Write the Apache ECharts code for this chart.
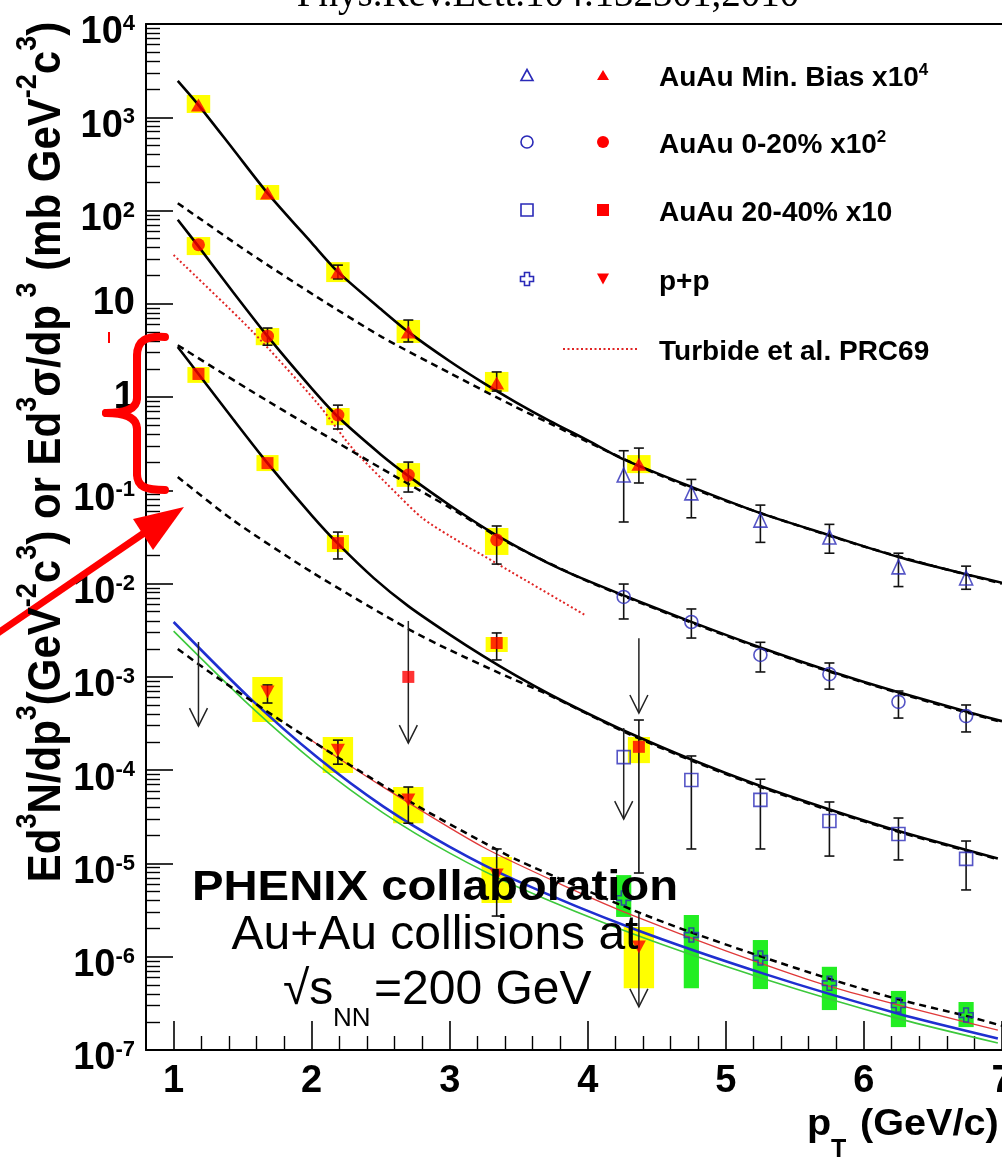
<!DOCTYPE html>
<html>
<head>
<meta charset="utf-8">
<title>PHENIX direct photon spectra</title>
<script src="https://cdn.jsdelivr.net/npm/echarts@6.0.0/dist/echarts.min.js"></script>
<style>
html,body{margin:0;padding:0;background:#ffffff;}
#chart{width:1002px;height:1160px;}
</style>
</head>
<body>
<div id="chart"></div>
<script>
// ---------------- axis ticks ----------------
const xMajorTicks = [1, 2, 3, 4, 5, 6, 7];
const xMinorTicks = [1.2,1.4,1.6,1.8,2.2,2.4,2.6,2.8,3.2,3.4,3.6,3.8,4.2,4.4,4.6,4.8,5.2,5.4,5.6,5.8,6.2,6.4,6.6,6.8];
const yMajorTicks = [1e-7,1e-6,1e-5,1e-4,1e-3,1e-2,1e-1,1,10,100,1000,10000];
const yMinorMultipliers = [2,3,4,5,6,7,8,9];

// ---------------- AuAu Min. Bias x10^4 ----------------
const mbRedPt    = [1.18, 1.68, 2.19, 2.70, 3.34, 4.37];
const mbRedVal   = [1355, 154, 21.9, 5.0, 1.42, 0.19];
const mbRedErrLo = [null, null, 18.5, 3.9, 1.16, 0.12];
const mbRedErrHi = [null, null, 26, 6.7, 1.86, 0.284];
const mbRedSysLo = [1112, 130, 17.1, 3.8, 1.14, 0.153];
const mbRedSysHi = [1733, 188, 28, 6.7, 1.86, 0.239];
const mbBluePt    = [4.26, 4.75, 5.25, 5.75, 6.25, 6.74];
const mbBlueVal   = [0.146, 0.094, 0.048, 0.0316, 0.0151, 0.0115];
const mbBlueErrLo = [0.0458, 0.0508, 0.0277, 0.0212, 0.0093, 0.0087];
const mbBlueErrHi = [0.266, 0.131, 0.0695, 0.0432, 0.0212, 0.0154];

// ---------------- AuAu 0-20% x10^2 ----------------
const c020RedPt    = [1.18, 1.68, 2.19, 2.70, 3.34];
const c020RedVal   = [43, 4.5, 0.643, 0.146, 0.0294];
const c020RedErrLo = [null, 3.6, 0.455, 0.096, 0.0162];
const c020RedErrHi = [null, 5.5, 0.82, 0.201, 0.0415];
const c020RedSysLo = [33.3, 3.6, 0.5, 0.109, 0.0203];
const c020RedSysHi = [52, 5.5, 0.764, 0.196, 0.0395];
const c020BluePt    = [4.26, 4.75, 5.25, 5.75, 6.25, 6.74];
const c020BlueVal   = [0.0072, 0.00388, 0.00172, 0.00107, 0.00054, 0.00038];
const c020BlueErrLo = [0.00418, 0.00261, 0.00113, 0.00074, 0.000362, 0.000257];
const c020BlueErrHi = [0.0099, 0.00535, 0.00235, 0.00141, 0.000706, 0.0005];

// ---------------- AuAu 20-40% x10 ----------------
const c2040RedPt    = [1.18, 1.68, 2.19, 2.70, 3.34, 4.37];
const c2040RedVal   = [1.77, 0.196, 0.0272, 0.00100, 0.00231, 0.000178];
const c2040RedErrLo = [null, null, 0.0184, null, 0.00152, 0.0000079];
const c2040RedErrHi = [null, null, 0.0357, null, 0.00296, 0.000345];
const c2040RedSysLo = [1.42, 0.161, 0.0218, null, 0.00185, 0.000119];
const c2040RedSysHi = [2.1, 0.239, 0.0332, null, 0.00268, 0.000227];
const c2040BluePt    = [4.26, 4.75, 5.25, 5.75, 6.25, 6.74];
const c2040BlueVal   = [0.000138, 0.0000785, 0.000048, 0.0000285, 0.0000207, 0.0000112];
const c2040BlueErrLo = [null, 0.0000143, 0.0000143, 0.000012, 0.0000109, 0.0000052];
const c2040BlueErrHi = [null, 0.000142, 0.00008, 0.0000456, 0.0000307, 0.0000174];

// ---------------- p+p ----------------
const ppRedPt    = [1.68, 2.19, 2.70, 3.34, 4.37];
const ppRedVal   = [6.9e-4, 1.64e-4, 4.8e-5, 7.5e-6, 1.27e-6];
const ppRedErrLo = [5.25e-4, 1.16e-4, 2.7e-5, 2.73e-6, null];
const ppRedErrHi = [8.2e-4, 2.1e-4, 6.6e-5, 1.43e-5, null];
const ppRedSysLo = [3.28e-4, 9.3e-5, 2.7e-5, 3.77e-6, 4.6e-7];
const ppRedSysHi = [1.0e-3, 2.27e-4, 6.6e-5, 1.17e-5, 2.08e-6];
const ppBluePt    = [4.26, 4.75, 5.25, 5.75, 6.25, 6.74];
const ppBlueVal   = [4.26e-6, 1.71e-6, 9.7e-7, 5.2e-7, 3.03e-7, 2.37e-7];
const ppBlueSysLo = [2.67e-6, 4.6e-7, 4.5e-7, 2.68e-7, 1.76e-7, 1.76e-7];
const ppBlueSysHi = [7.5e-6, 2.8e-6, 1.51e-6, 7.8e-7, 4.3e-7, 3.27e-7];

// ---------------- upper limits (arrow from top value down to tip value) ----------------
const ulPt  = [1.18, 2.70, 4.37, 4.26, 4.37];
const ulTop = [2.37e-3, 3.98e-3, 2.6e-3, 2.83e-4, 2.95e-6];
const ulTip = [2.97e-4, 1.95e-4, 4.1e-4, 2.99e-5, 2.9e-7];

// ---------------- fits and theory curves ----------------
const fitMbPt  = [1.03,1.18,1.43,1.68,2.0,2.19,2.5,2.7,3.0,3.24,3.48,3.72,4.0,4.26,4.75,5.25,5.75,6.25,6.76,7.0];
const fitMbVal = [2450,1350,457,154,45,22,8.8,5.0,2.42,1.43,0.88,0.56,0.343,0.215,0.109,0.057,0.033,0.0193,0.0124,0.0102];
const ppScaledMbPt  = [1.03,1.55,2.04,2.51,3.0,3.48,3.72,4.0,4.5,5.0,5.5,6.0,6.5,7.0];
const ppScaledMbVal = [120,35,11.8,4.4,1.81,0.78,0.527,0.33,0.15,0.077,0.043,0.025,0.0155,0.0100];

const fit020Pt  = [1.03,1.18,1.43,1.68,2.0,2.19,2.5,2.7,3.0,3.34,3.8,4.26,4.75,5.25,5.75,6.25,6.76,7.0];
const fit020Val = [79.6,41.3,13.4,4.5,1.24,0.615,0.243,0.143,0.0693,0.033,0.0144,0.00748,0.00389,0.00207,0.00116,0.000684,0.000418,0.000335];
const ppScaled020Pt  = [1.03,1.55,2.04,2.51,3.0,3.34,3.6,4.0,4.5,5.0,5.5,6.0,6.5,7.0];
const ppScaled020Val = [3.6,1.19,0.437,0.17,0.0653,0.0322,0.0202,0.0106,0.00531,0.00277,0.00151,0.00087,0.000525,0.000327];

const fit2040Pt  = [1.03,1.18,1.43,1.68,2.0,2.19,2.45,2.7,3.0,3.24,3.48,3.72,4.0,4.28,4.75,5.26,5.74,6.25,6.97];
const fit2040Val = [3.44,1.77,0.582,0.196,0.054,0.0268,0.01146,0.00574,0.00284,0.00168,0.00103,0.000656,0.000405,0.000258,0.00013,0.0000667,0.0000384,0.0000223,0.0000113];
const ppScaled2040Pt  = [1.03,1.43,2.0,2.71,3.0,3.36,3.72,4.28,4.75,5.26,5.74,6.25,6.97];
const ppScaled2040Val = [0.139,0.048,0.0133,0.0032,0.00194,0.0011,0.000638,0.000251,0.000127,0.0000652,0.0000375,0.0000218,0.0000111];

const ppFitPt  = [1.03,1.31,1.79,2.28,2.76,3.24,3.5,4.35,4.73,5.25,5.75,6.25,6.74,7.0];
const ppFitVal = [1.99e-3,9.98e-4,3.30e-4,1.13e-4,4.18e-5,1.69e-5,1.07e-5,3.06e-6,1.87e-6,1.01e-6,5.79e-7,3.49e-7,2.32e-7,1.82e-7];
const ppBlueCurvePt  = [1.0,1.55,2.04,2.52,3.0,3.48,4.32,5.29,6.25,6.97];
const ppBlueCurveVal = [3.88e-3,5.96e-4,1.374e-4,4.07e-5,1.507e-5,6.58e-6,2.02e-6,6.47e-7,2.45e-7,1.33e-7];
const ppGreenCurvePt  = [1.0,1.55,2.04,2.52,3.0,3.48,4.32,5.29,6.25,6.97];
const ppGreenCurveVal = [3.10e-3,4.95e-4,1.156e-4,3.47e-5,1.29e-5,5.69e-6,1.77e-6,5.71e-7,2.17e-7,1.19e-7];
const ppRedCurvePt  = [2.0,2.51,3.24,3.87,4.32,5.0,5.77,6.97];
const ppRedCurveVal = [2.08e-4,6.70e-5,1.50e-5,5.41e-6,2.79e-6,1.156e-6,4.72e-7,1.63e-7];

const turbidePt  = [1.0,1.56,2.04,2.3,2.64,2.8,3.0,3.36,3.98];
const turbideVal = [33.3,5.24,0.865,0.277,0.0849,0.0506,0.0324,0.0158,0.00461];

// ---------------- legend / text ----------------
const legendLabels = ['AuAu Min. Bias x10', 'AuAu 0-20% x10', 'AuAu 20-40% x10', 'p+p', 'Turbide et al. PRC69'];
const legendSups   = ['4', '2', '', '', ''];
const titleText = 'Phys.Rev.Lett.104:132301,2010';

// ================= build =================
const FONT = '"Liberation Sans", Arial, Helvetica, sans-serif';
const SERIF = '"Liberation Serif", "Times New Roman", Times, serif';
const RED = '#ff0000';
const BLUE = '#2a2ab8';
const BLACK = '#000000';

const yMinorTicks = [];
yMajorTicks.slice(0, -1).forEach(d => yMinorMultipliers.forEach(m => yMinorTicks.push(m * d)));

const pairs = (xs, ys) => xs.map((x, i) => [x, ys[i]]);
const ranges = (xs, lo, hi) => xs.map((x, i) => (lo[i] == null || hi[i] == null) ? null : [x, lo[i], hi[i]]).filter(Boolean);

function boxRenderer(hw, color) {
  return function (params, api) {
    const x = api.value(0), lo = api.value(1), hi = api.value(2);
    const p1 = api.coord([x - hw, hi]);
    const p2 = api.coord([x + hw, lo]);
    return { type: 'rect', shape: { x: p1[0], y: p1[1], width: p2[0] - p1[0], height: p2[1] - p1[1] }, style: { fill: color } };
  };
}
function errRenderer(params, api) {
  const x = api.value(0), lo = api.value(1), hi = api.value(2);
  const a = api.coord([x, lo]), b = api.coord([x, hi]);
  const c = 5, st = { stroke: '#111', lineWidth: 1.6 };
  return { type: 'group', children: [
    { type: 'line', shape: { x1: a[0], y1: a[1], x2: b[0], y2: b[1] }, style: st },
    { type: 'line', shape: { x1: a[0] - c, y1: a[1], x2: a[0] + c, y2: a[1] }, style: st },
    { type: 'line', shape: { x1: b[0] - c, y1: b[1], x2: b[0] + c, y2: b[1] }, style: st }
  ] };
}
function arrowRenderer(params, api) {
  const x = api.value(0), top = api.value(1), tip = api.value(2);
  const a = api.coord([x, top]), b = api.coord([x, tip]);
  const st = { stroke: '#222', lineWidth: 1.5, fill: 'none' };
  return { type: 'group', children: [
    { type: 'line', shape: { x1: a[0], y1: a[1], x2: b[0], y2: b[1] }, style: st },
    { type: 'polyline', shape: { points: [[b[0] - 9, b[1] - 18], [b[0], b[1]], [b[0] + 9, b[1] - 18]] }, style: st }
  ] };
}
function boxes(name, xs, lo, hi, hw, color) {
  return { type: 'custom', name, data: ranges(xs, lo, hi), renderItem: boxRenderer(hw, color), encode: { x: 0, y: [1, 2] }, z: 1, silent: true };
}
function errs(name, xs, lo, hi) {
  return { type: 'custom', name, data: ranges(xs, lo, hi), renderItem: errRenderer, encode: { x: 0, y: [1, 2] }, z: 3, silent: true };
}
function curve(name, xs, ys, color, width, type) {
  return { type: 'line', name, data: pairs(xs, ys), smooth: 0.25, showSymbol: false, symbol: 'none',
    lineStyle: { color, width, type: type || 'solid' }, z: 2, silent: true };
}
function marks(name, xs, ys, symbol, size, filled, color, rotate) {
  return { type: 'scatter', name, data: pairs(xs, ys).filter(p => p[1] != null), symbol, symbolSize: size, symbolRotate: rotate || 0,
    itemStyle: filled ? { color, borderWidth: 0 } : { color: 'rgba(0,0,0,0)', borderColor: color, borderWidth: 1.6 }, z: 4, silent: true };
}
const CROSS = 'path://M4,0 L8,0 L8,4 L12,4 L12,8 L8,8 L8,12 L4,12 L4,8 L0,8 L0,4 L4,4 Z';

const series = [
  boxes('MB sys', mbRedPt, mbRedSysLo, mbRedSysHi, 0.085, '#ffff00'),
  boxes('0-20 sys', c020RedPt, c020RedSysLo, c020RedSysHi, 0.085, '#ffff00'),
  boxes('20-40 sys', c2040RedPt, c2040RedSysLo, c2040RedSysHi, 0.08, '#ffff00'),
  boxes('pp sys', ppRedPt, ppRedSysLo, ppRedSysHi, 0.11, '#ffff00'),
  boxes('pp high sys', ppBluePt, ppBlueSysLo, ppBlueSysHi, 0.055, '#22ee22'),

  curve('Turbide et al. PRC69', turbidePt, turbideVal, '#e02424', 2, [2, 2.5]),
  curve('pp green', ppGreenCurvePt, ppGreenCurveVal, '#3cc83c', 1.6),
  curve('pp blue', ppBlueCurvePt, ppBlueCurveVal, '#1f2fd0', 2.6),
  curve('pp red', ppRedCurvePt, ppRedCurveVal, '#e03a3a', 1.3),
  curve('pp fit', ppFitPt, ppFitVal, BLACK, 2.5, [7, 5]),
  curve('MB pp scaled', ppScaledMbPt, ppScaledMbVal, BLACK, 2.5, [7, 5]),
  curve('0-20 pp scaled', ppScaled020Pt, ppScaled020Val, BLACK, 2.5, [7, 5]),
  curve('20-40 pp scaled', ppScaled2040Pt, ppScaled2040Val, BLACK, 2.5, [7, 5]),
  curve('MB fit', fitMbPt, fitMbVal, BLACK, 2.6),
  curve('0-20 fit', fit020Pt, fit020Val, BLACK, 2.6),
  curve('20-40 fit', fit2040Pt, fit2040Val, BLACK, 2.6),

  errs('MB err', mbRedPt, mbRedErrLo, mbRedErrHi),
  errs('MB high err', mbBluePt, mbBlueErrLo, mbBlueErrHi),
  errs('0-20 err', c020RedPt, c020RedErrLo, c020RedErrHi),
  errs('0-20 high err', c020BluePt, c020BlueErrLo, c020BlueErrHi),
  errs('20-40 err', c2040RedPt, c2040RedErrLo, c2040RedErrHi),
  errs('20-40 high err', c2040BluePt, c2040BlueErrLo, c2040BlueErrHi),
  errs('pp err', ppRedPt, ppRedErrLo, ppRedErrHi),
  { type: 'custom', name: 'upper limits', data: ranges(ulPt, ulTop, ulTip), renderItem: arrowRenderer, encode: { x: 0, y: [1, 2] }, z: 3, silent: true },

  marks('AuAu Min. Bias x10^4', mbRedPt, mbRedVal, 'triangle', [15, 13], true, RED),
  marks('AuAu Min. Bias x10^4 (high pT)', mbBluePt, mbBlueVal, 'triangle', [13, 14], false, BLUE),
  marks('AuAu 0-20% x10^2', c020RedPt, c020RedVal, 'circle', 13, true, RED),
  marks('AuAu 0-20% x10^2 (high pT)', c020BluePt, c020BlueVal, 'circle', 13, false, BLUE),
  marks('AuAu 20-40% x10', c2040RedPt, c2040RedVal, 'rect', 12, true, RED),
  marks('AuAu 20-40% x10 (high pT)', c2040BluePt, c2040BlueVal, 'rect', 13, false, BLUE),
  marks('p+p', ppRedPt, ppRedVal, 'triangle', [14, 13], true, RED, 180),
  marks('p+p (high pT)', ppBluePt, ppBlueVal, CROSS, 14, false, BLUE)
];

// ---------- graphic: texts, legend, annotations ----------
const g = [];
function txt(o) { return Object.assign({ type: 'text', z: 100, silent: true }, o); }

// title (cut at top)
g.push(txt({ x: 548, y: -4, style: { text: titleText, fontFamily: SERIF, fontSize: 39, fill: BLACK, align: 'center', verticalAlign: 'middle' } }));

// y-axis title (rotated)
const yTitle = '{b|Ed}{s|3}{b|N/dp}{s|3}{b|(GeV}{s|-2}{b|c}{s|3}{b|) or Ed}{s|3}{b|σ/dp}{s| 3}{b| (mb GeV}{s|-2}{b|c}{s|3}{b|)}';
g.push(txt({ x: 47, y: 452, rotation: Math.PI / 2, scaleY: 1.12,
  style: { text: yTitle, align: 'center', verticalAlign: 'middle', fill: BLACK,
    rich: { b: { fontSize: 42, fontWeight: 'bold', fontFamily: FONT, lineHeight: 62, fill: BLACK },
            s: { fontSize: 27, fontWeight: 'bold', fontFamily: FONT, lineHeight: 27, verticalAlign: 'top', fill: BLACK } } } }));

// x-axis title
g.push(txt({ x: 807, y: 1125, scaleX: 1.1, style: { text: 'p', fontFamily: FONT, fontWeight: 'bold', fontSize: 36, fill: BLACK, align: 'left', verticalAlign: 'middle' } }));
g.push(txt({ x: 831, y: 1150, style: { text: 'T', fontFamily: FONT, fontWeight: 'bold', fontSize: 25, fill: BLACK, align: 'left', verticalAlign: 'middle' } }));
g.push(txt({ x: 860, y: 1125, scaleX: 1.1, style: { text: '(GeV/c)', fontFamily: FONT, fontWeight: 'bold', fontSize: 36, fill: BLACK, align: 'left', verticalAlign: 'middle' } }));

// legend
const rowY = [75, 142, 210, 279, 349];
const bx = 527, rx = 603, tx = 659;
function triUp(cx, cy, w, h) { return [[cx, cy - h / 2], [cx + w / 2, cy + h / 2], [cx - w / 2, cy + h / 2]]; }
function triDn(cx, cy, w, h) { return [[cx - w / 2, cy - h / 2], [cx + w / 2, cy - h / 2], [cx, cy + h / 2]]; }
function crossPts(cx, cy, a, l) {
  return [[cx - a, cy - l], [cx + a, cy - l], [cx + a, cy - a], [cx + l, cy - a], [cx + l, cy + a], [cx + a, cy + a],
          [cx + a, cy + l], [cx - a, cy + l], [cx - a, cy + a], [cx - l, cy + a], [cx - l, cy - a], [cx - a, cy - a]];
}
const openSt = { fill: 'none', stroke: BLUE, lineWidth: 1.6 };
g.push({ type: 'polygon', z: 100, shape: { points: triUp(bx, rowY[0], 12, 11) }, style: openSt });
g.push({ type: 'polygon', z: 100, shape: { points: triUp(rx, rowY[0], 12, 10) }, style: { fill: RED } });
g.push({ type: 'circle', z: 100, shape: { cx: bx, cy: rowY[1], r: 6 }, style: openSt });
g.push({ type: 'circle', z: 100, shape: { cx: rx, cy: rowY[1], r: 6 }, style: { fill: RED } });
g.push({ type: 'rect', z: 100, shape: { x: bx - 6, y: rowY[2] - 6, width: 12, height: 12 }, style: openSt });
g.push({ type: 'rect', z: 100, shape: { x: rx - 6, y: rowY[2] - 6, width: 12, height: 12 }, style: { fill: RED } });
g.push({ type: 'polygon', z: 100, shape: { points: crossPts(bx, rowY[3], 2.5, 6.5) }, style: openSt });
g.push({ type: 'polygon', z: 100, shape: { points: triDn(rx, rowY[3], 12, 11) }, style: { fill: RED } });
g.push({ type: 'line', z: 100, shape: { x1: 563, y1: rowY[4], x2: 638, y2: rowY[4] }, style: { stroke: '#e02424', lineWidth: 2, lineDash: [2, 2.5] } });
legendLabels.forEach((lab, i) => {
  const t = '{t|' + lab + '}' + (legendSups[i] ? '{s|' + legendSups[i] + '}' : '');
  g.push(txt({ x: tx, y: rowY[i] + 3, style: { text: t, align: 'left', verticalAlign: 'middle', fill: BLACK,
    rich: { t: { fontSize: 28, fontWeight: 'bold', fontFamily: FONT, lineHeight: 32, fill: BLACK },
            s: { fontSize: 17, fontWeight: 'bold', fontFamily: FONT, lineHeight: 17, verticalAlign: 'top', fill: BLACK } } } }));
});

// PHENIX annotation
g.push(txt({ x: 435, y: 888, scaleX: 1.1, style: { text: 'PHENIX collaboration', fontFamily: FONT, fontWeight: 'bold', fontSize: 43, fill: BLACK, align: 'center', verticalAlign: 'middle' } }));
g.push(txt({ x: 435, y: 936, style: { text: 'Au+Au collisions at', fontFamily: FONT, fontSize: 48, fill: BLACK, align: 'center', verticalAlign: 'middle' } }));
g.push(txt({ x: 283, y: 991, style: { text: '√s', fontFamily: FONT, fontSize: 48, fill: BLACK, align: 'left', verticalAlign: 'middle' } }));
g.push(txt({ x: 333, y: 1019, style: { text: 'NN', fontFamily: FONT, fontSize: 26, fill: BLACK, align: 'left', verticalAlign: 'middle' } }));
g.push(txt({ x: 374, y: 991, style: { text: '=200 GeV', fontFamily: FONT, fontSize: 48, fill: BLACK, align: 'left', verticalAlign: 'middle' } }));

// red hand-drawn annotations
const redSt = { stroke: RED, lineWidth: 8, fill: 'none', lineCap: 'round' };
g.push({ type: 'bezierCurve', z: 90, shape: { x1: 165, y1: 337, cpx1: 146, cpy1: 336, cpx2: 137, cpy2: 340, x2: 137, y2: 356 }, style: redSt });
g.push({ type: 'line', z: 90, shape: { x1: 137, y1: 356, x2: 137, y2: 398 }, style: redSt });
g.push({ type: 'bezierCurve', z: 90, shape: { x1: 137, y1: 398, cpx1: 137, cpy1: 410, cpx2: 124, cpy2: 413, x2: 106, y2: 413 }, style: redSt });
g.push({ type: 'bezierCurve', z: 90, shape: { x1: 106, y1: 413, cpx1: 124, cpy1: 413, cpx2: 137, cpy2: 417, x2: 137, y2: 429 }, style: redSt });
g.push({ type: 'line', z: 90, shape: { x1: 137, y1: 429, x2: 137, y2: 474 }, style: redSt });
g.push({ type: 'bezierCurve', z: 90, shape: { x1: 137, y1: 474, cpx1: 137, cpy1: 487, cpx2: 146, cpy2: 490, x2: 165, y2: 490 }, style: redSt });
g.push({ type: 'line', z: 90, shape: { x1: -2, y1: 633, x2: 147, y2: 531 }, style: { stroke: RED, lineWidth: 7 } });
g.push({ type: 'polygon', z: 90, shape: { points: [[184, 507], [133, 519], [153, 550]] }, style: { fill: RED } });
g.push({ type: 'rect', z: 90, shape: { x: 108, y: 332, width: 2, height: 11 }, style: { fill: RED } });

const yFmt = v => {
  const e = Math.round(Math.log10(v));
  if (e === 0) return '{c|1}';
  if (e === 1) return '{c|10}';
  return '{b|10}{s|' + e + '}';
};
const axisFontBase = { fontFamily: FONT, fontWeight: 'bold', color: BLACK };

const option = {
  animation: false,
  backgroundColor: '#ffffff',
  grid: { left: 146, right: 0, top: 24, bottom: 110, containLabel: false, outerBoundsMode: 'none', show: false },
  xAxis: [
    { type: 'value', min: 0.8, max: 7, position: 'bottom',
      axisLine: { show: true, onZero: false, lineStyle: { color: BLACK, width: 2 } },
      axisTick: { show: true, inside: true, length: 29, customValues: xMajorTicks, lineStyle: { color: BLACK, width: 1.6 } },
      axisLabel: { show: true, customValues: xMajorTicks, margin: 13, fontSize: 38, ...axisFontBase, formatter: v => String(v) },
      splitLine: { show: false } },
    { type: 'value', min: 0.8, max: 7, position: 'bottom',
      axisLine: { show: false, onZero: false },
      axisTick: { show: true, inside: true, length: 14, customValues: xMinorTicks, lineStyle: { color: BLACK, width: 1.4 } },
      axisLabel: { show: false }, splitLine: { show: false } },
    { type: 'value', min: 0.8, max: 7, position: 'top',
      axisLine: { show: true, onZero: false, lineStyle: { color: BLACK, width: 2 } },
      axisTick: { show: false }, axisLabel: { show: false }, splitLine: { show: false } }
  ],
  yAxis: [
    { type: 'log', logBase: 10, min: 1e-7, max: 1e4, position: 'left',
      axisLine: { show: true, onZero: false, lineStyle: { color: BLACK, width: 2 } },
      axisTick: { show: true, inside: true, length: 27, customValues: yMajorTicks, lineStyle: { color: BLACK, width: 1.6 } },
      axisLabel: { show: true, customValues: yMajorTicks, margin: 11, formatter: yFmt,
        rich: {
          b: { fontSize: 38, lineHeight: 38, verticalAlign: 'bottom', ...axisFontBase },
          s: { fontSize: 22, lineHeight: 56, verticalAlign: 'middle', ...axisFontBase },
          c: { fontSize: 38, lineHeight: 38, ...axisFontBase }
        } },
      splitLine: { show: false } },
    { type: 'log', logBase: 10, min: 1e-7, max: 1e4, position: 'left',
      axisLine: { show: false, onZero: false },
      axisTick: { show: true, inside: true, length: 14, customValues: yMinorTicks, lineStyle: { color: BLACK, width: 1.4 } },
      axisLabel: { show: false }, splitLine: { show: false } }
  ],
  series: series,
  graphic: { elements: g }
};

const chart = echarts.init(document.getElementById('chart'), null, { renderer: 'canvas' });
chart.setOption(option);
</script>
</body>
</html>
